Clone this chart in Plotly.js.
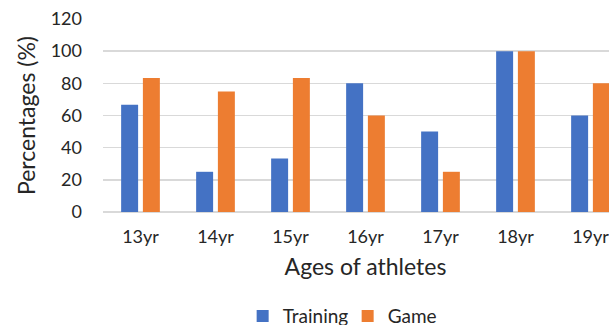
<!DOCTYPE html>
<html><head><meta charset="utf-8">
<script src="https://cdn.plot.ly/plotly-3.0.1.min.js"></script>
<style>html,body{margin:0;padding:0;overflow:hidden;width:609px;height:325px;background:#fff}#chart{width:640px;height:325px}</style>
</head><body><div id="chart"></div>
<script>
var categories = ["13yr","14yr","15yr","16yr","17yr","18yr","19yr"];
var training = [66.7, 25, 33.3, 80, 50, 100, 60];
var game = [83.3, 75, 83.3, 60, 25, 100, 80];
var seriesNames = ["Training","Game"];
var colors = ["#4472C4","#ED7D31"];
var FONT = 'Lato, "Open Sans", sans-serif';

var traces = [
  {type:'bar', name:seriesNames[0], x:categories, y:training, marker:{color:colors[0]}},
  {type:'bar', name:seriesNames[1], x:categories, y:game, marker:{color:colors[1]}}
];
var layout = {
  width:640, height:325,
  margin:{l:103, r:12, t:19, b:113, autoexpand:false},
  paper_bgcolor:'#fff', plot_bgcolor:'#fff',
  font:{family:FONT, color:'#262626', size:18},
  barmode:'group', bargap:0.42, bargroupgap:0.22,
  showlegend:true,
  legend:{orientation:'h', x:0.266, xanchor:'left', y:-0.54, yanchor:'middle',
          font:{size:19, family:FONT, color:'#262626'}, itemwidth:30, entrywidth:60, traceorder:'normal'},
  xaxis:{type:'category', automargin:false, showgrid:false, showline:false, zeroline:false, ticks:'',
         ticklabelstandoff:12, tickfont:{size:18},
         title:{text:'Ages of athletes', font:{size:23}, standoff:12}},
  yaxis:{range:[0,120], dtick:20, automargin:false, showgrid:true, gridcolor:'#d9d9d9', gridwidth:1.5,
         zeroline:true, zerolinecolor:'#d9d9d9', zerolinewidth:1.5, showline:false, ticks:'',
         ticklabelstandoff:20, tickfont:{size:18},
         title:{text:'Percentages (%)', font:{size:23}, standoff:8}}
};
Plotly.newPlot('chart', traces, layout, {displayModeBar:false, staticPlot:true});
</script></body></html>
